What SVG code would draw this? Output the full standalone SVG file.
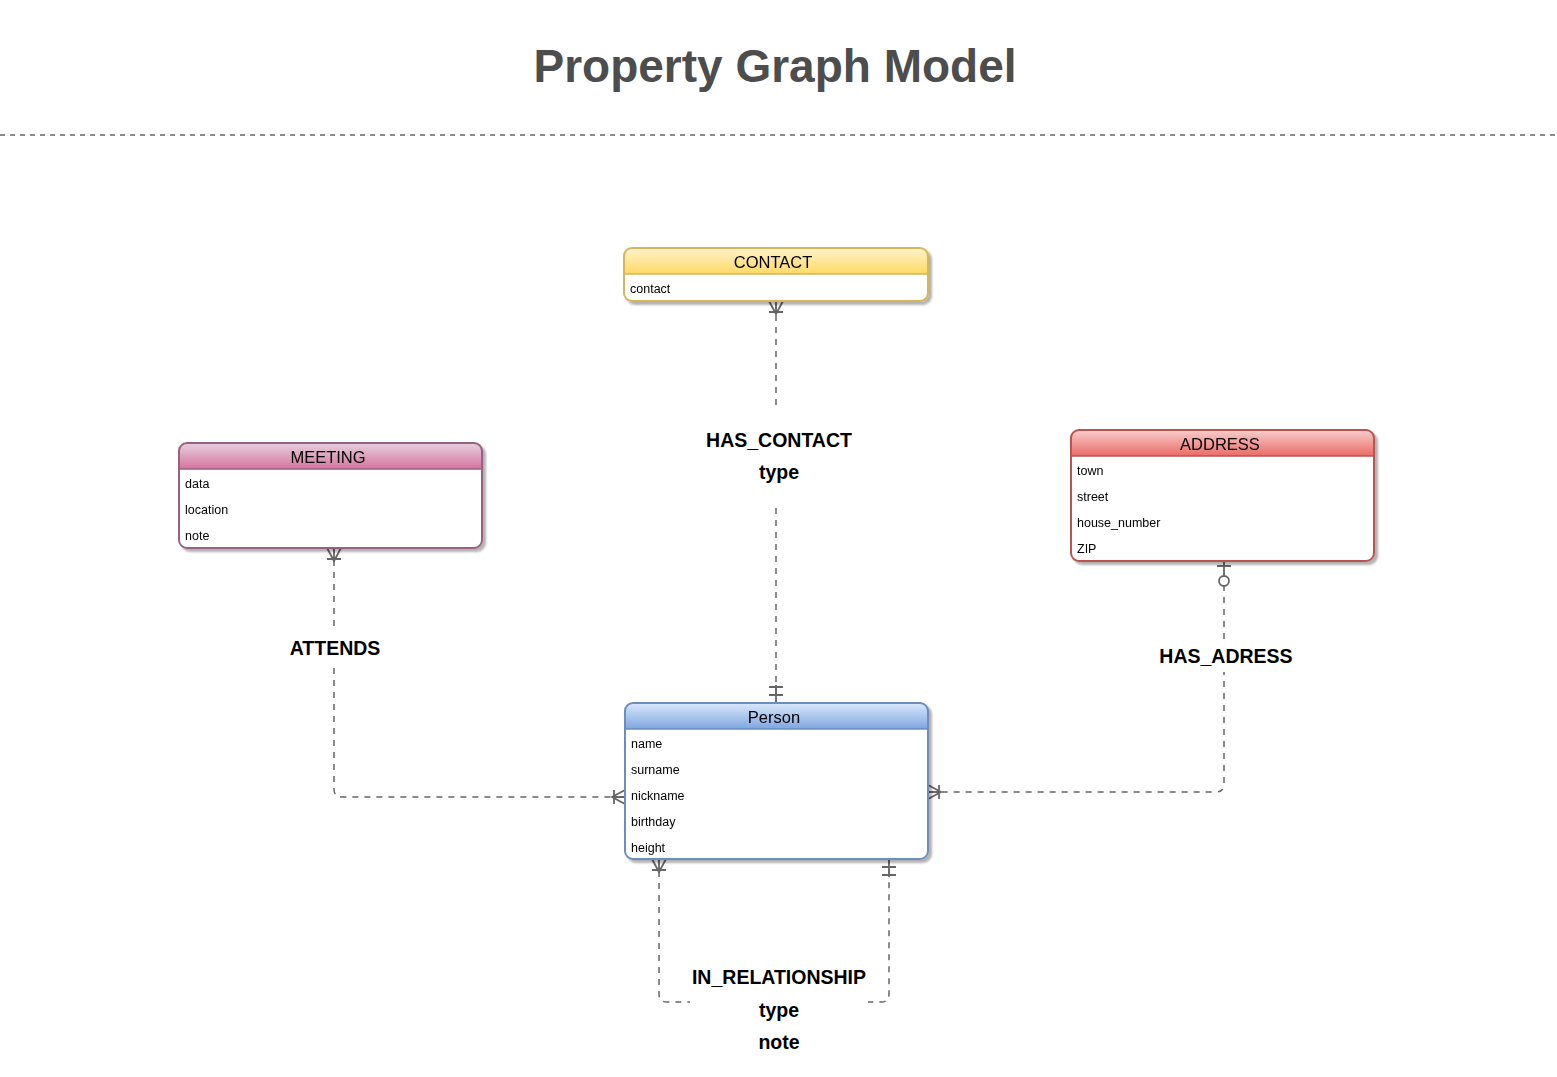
<svg xmlns="http://www.w3.org/2000/svg" width="1557" height="1077" viewBox="0 0 1557 1077">
<style>
.title{font-family:"Liberation Sans",Arial,sans-serif;font-weight:bold;font-size:46px;fill:#4d4d4d;text-anchor:middle}
.hdr{font-family:"Liberation Sans",Arial,sans-serif;font-size:16.5px;fill:#000;text-anchor:middle}
.attr{font-family:"Liberation Sans",Arial,sans-serif;font-size:12.5px;fill:#000}
.lbl{font-family:"Liberation Sans",Arial,sans-serif;font-weight:bold;font-size:19.5px;fill:#000;text-anchor:middle}
.conn{fill:none;stroke:#666;stroke-width:1.5;stroke-dasharray:6 6}
.mk{fill:none;stroke:#666;stroke-width:1.8}
.bg{fill:#fff}
</style>
<defs>
<filter id="sh" x="-5%" y="-10%" width="115%" height="130%">
<feGaussianBlur in="SourceAlpha" stdDeviation="0.8"/>
<feOffset dx="3" dy="3" result="o"/>
<feComponentTransfer><feFuncA type="linear" slope="0.3"/></feComponentTransfer>
<feMerge><feMergeNode/><feMergeNode in="SourceGraphic"/></feMerge>
</filter>
<linearGradient id="gY" x1="0" y1="0" x2="0" y2="1"><stop offset="0" stop-color="#fff2cc"/><stop offset="1" stop-color="#ffd966"/></linearGradient>
<linearGradient id="gM" x1="0" y1="0" x2="0" y2="1"><stop offset="0" stop-color="#e6d0de"/><stop offset="1" stop-color="#d5739d"/></linearGradient>
<linearGradient id="gR" x1="0" y1="0" x2="0" y2="1"><stop offset="0" stop-color="#f8cecc"/><stop offset="1" stop-color="#ea6b66"/></linearGradient>
<linearGradient id="gB" x1="0" y1="0" x2="0" y2="1"><stop offset="0" stop-color="#dae8fc"/><stop offset="1" stop-color="#7ea6e0"/></linearGradient>
<marker id="many" markerUnits="userSpaceOnUse" markerWidth="40" markerHeight="40" viewBox="-20 -20 40 40" refX="0" refY="0" orient="auto-start-reverse" overflow="visible">
<path class="mk" d="M0,-7 L-13,0 L0,7 M-11,-7 V7 M0,0 H-13"/>
</marker>
<marker id="one" markerUnits="userSpaceOnUse" markerWidth="40" markerHeight="40" viewBox="-20 -20 40 40" refX="0" refY="0" orient="auto-start-reverse" overflow="visible">
<path class="mk" d="M-8,-7 V7 M-16,-7 V7 M0,0 H-18"/>
</marker>
<marker id="zeroOne" markerUnits="userSpaceOnUse" markerWidth="60" markerHeight="40" viewBox="-30 -20 60 40" refX="0" refY="0" orient="auto-start-reverse" overflow="visible">
<path class="mk" d="M-5,-7 V7 M0,0 H-15"/>
<circle cx="-20" cy="0" r="5" fill="#fff" stroke="#666" stroke-width="1.8"/>
</marker>
</defs>
<rect width="1557" height="1077" fill="#fff"/>
<text class="title" x="775" y="82">Property Graph Model</text>
<line x1="0" y1="135" x2="1557" y2="135" stroke="#666" stroke-width="1.5" stroke-dasharray="5 5"/>

<g id="connectors">
<path class="conn" d="M776,405 V301" marker-end="url(#many)"/>
<path class="conn" d="M776,508 V703" marker-end="url(#one)"/>
<path class="conn" d="M334,548 V789 Q334,797 342,797 H625" marker-start="url(#many)" marker-end="url(#many)"/>
<path class="conn" d="M1224,561 V784 Q1224,792 1216,792 H928" marker-start="url(#zeroOne)" marker-end="url(#many)"/>
<path class="conn" d="M659,859 V994 Q659,1002 667,1002 H881 Q889,1002 889,994 V859" marker-start="url(#many)" marker-end="url(#one)"/>
<rect class="bg" x="700" y="412" width="160" height="88"/>
<text class="lbl" x="779" y="447">HAS_CONTACT</text>
<text class="lbl" x="779" y="479">type</text>
<rect class="bg" x="286" y="632" width="100" height="32"/>
<text class="lbl" x="335" y="655">ATTENDS</text>
<rect class="bg" x="1156" y="640" width="142" height="32"/>
<text class="lbl" x="1226" y="663">HAS_ADRESS</text>
<rect class="bg" x="690" y="962" width="178" height="94"/>
<text class="lbl" x="779" y="984">IN_RELATIONSHIP</text>
<text class="lbl" x="779" y="1017">type</text>
<text class="lbl" x="779" y="1049">note</text>
</g>

<g id="contact" filter="url(#sh)">
<rect x="624" y="248" width="304" height="53" rx="8" fill="#fff"/>
<path d="M624,274 V256 Q624,248 632,248 H920 Q928,248 928,256 V274 Z" fill="url(#gY)"/>
<line x1="624" y1="274" x2="928" y2="274" stroke="#d6b656" stroke-width="1.5"/>
<rect x="624" y="248" width="304" height="53" rx="8" fill="none" stroke="#d6b656" stroke-width="2"/>
<text class="hdr" x="773" y="267.5">CONTACT</text>
<text class="attr" x="630" y="292.5">contact</text>
</g>

<g id="meeting" filter="url(#sh)">
<rect x="179" y="443" width="303" height="105" rx="8" fill="#fff"/>
<path d="M179,469 V451 Q179,443 187,443 H474 Q482,443 482,451 V469 Z" fill="url(#gM)"/>
<line x1="179" y1="469" x2="482" y2="469" stroke="#996185" stroke-width="1.5"/>
<rect x="179" y="443" width="303" height="105" rx="8" fill="none" stroke="#996185" stroke-width="2"/>
<text class="hdr" x="328" y="462.5">MEETING</text>
<text class="attr" x="185" y="487.5">data</text>
<text class="attr" x="185" y="513.5">location</text>
<text class="attr" x="185" y="539.5">note</text>
</g>

<g id="address" filter="url(#sh)">
<rect x="1071" y="430" width="303" height="131" rx="8" fill="#fff"/>
<path d="M1071,456 V438 Q1071,430 1079,430 H1366 Q1374,430 1374,438 V456 Z" fill="url(#gR)"/>
<line x1="1071" y1="456" x2="1374" y2="456" stroke="#b85450" stroke-width="1.5"/>
<rect x="1071" y="430" width="303" height="131" rx="8" fill="none" stroke="#b85450" stroke-width="2"/>
<text class="hdr" x="1220" y="449.5">ADDRESS</text>
<text class="attr" x="1077" y="474.5">town</text>
<text class="attr" x="1077" y="500.5">street</text>
<text class="attr" x="1077" y="526.5">house_number</text>
<text class="attr" x="1077" y="552.5">ZIP</text>
</g>

<g id="person" filter="url(#sh)">
<rect x="625" y="703" width="303" height="156" rx="8" fill="#fff"/>
<path d="M625,729 V711 Q625,703 633,703 H920 Q928,703 928,711 V729 Z" fill="url(#gB)"/>
<line x1="625" y1="729" x2="928" y2="729" stroke="#6c8ebf" stroke-width="1.5"/>
<rect x="625" y="703" width="303" height="156" rx="8" fill="none" stroke="#6c8ebf" stroke-width="2"/>
<text class="hdr" x="774" y="722.5">Person</text>
<text class="attr" x="631" y="747.5">name</text>
<text class="attr" x="631" y="773.5">surname</text>
<text class="attr" x="631" y="799.5">nickname</text>
<text class="attr" x="631" y="825.5">birthday</text>
<text class="attr" x="631" y="851.5">height</text>
</g>
</svg>
